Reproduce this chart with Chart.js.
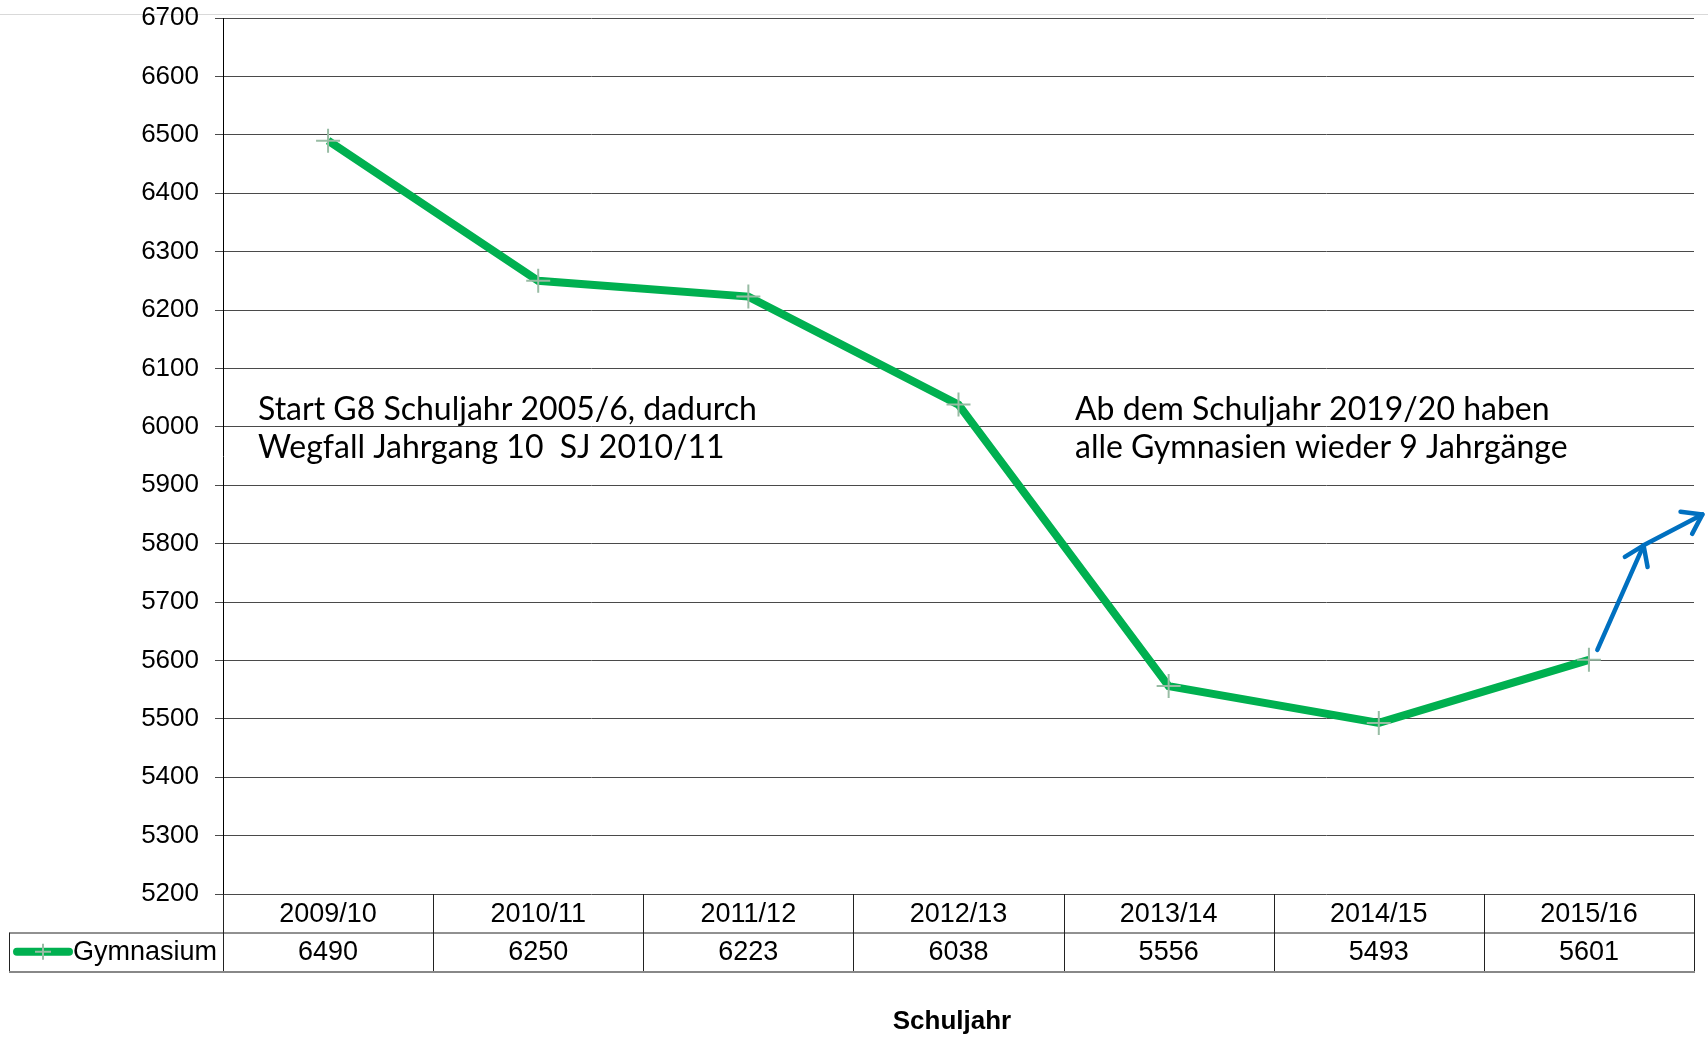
<!DOCTYPE html>
<html>
<head>
<meta charset="utf-8">
<script src="https://cdn.jsdelivr.net/npm/chart.js@4.4.0/dist/chart.umd.min.js"></script>
<style>
  html, body { margin: 0; padding: 0; background: #fff; }
  #wrap { width: 1708px; height: 1037px; position: relative; }
</style>
</head>
<body>
<div id="wrap"><canvas id="chart" width="1708" height="1037"></canvas></div>
<script>
// Data
const categories = ['2009/10', '2010/11', '2011/12', '2012/13', '2013/14', '2014/15', '2015/16'];
const gymnasium = [6490, 6250, 6223, 6038, 5556, 5493, 5601];
const seriesName = 'Gymnasium';
const axisTitle = 'Schuljahr';

// Blue "trend" arrow (category index, value)
const arrowX = [6.04, 6.26, 6.54];
const arrowY = [5618, 5797, 5850];

const noteLeft = ['Start G8 Schuljahr 2005/6, dadurch', 'Wegfall Jahrgang 10  SJ 2010/11'];
const noteRight = ['Ab dem Schuljahr 2019/20 haben', 'alle Gymnasien wieder 9 Jahrgänge'];

const GREEN = '#00b050';
const MARKER = '#98bca4';
const BLUE = '#0070c0';
const FONT = '"Liberation Sans", Arial, sans-serif';

function arrowHead(ctx, x0, y0, x1, y1, len) {
  const a = Math.atan2(y1 - y0, x1 - x0);
  ctx.beginPath();
  ctx.moveTo(x1 - len * Math.cos(a - 0.6), y1 - len * Math.sin(a - 0.6));
  ctx.lineTo(x1, y1);
  ctx.lineTo(x1 - len * Math.cos(a + 0.6), y1 - len * Math.sin(a + 0.6));
  ctx.stroke();
}

const extras = {
  id: 'extras',
  beforeDraw(chart) {
    const ctx = chart.ctx;
    // faint page line at the very top
    ctx.save();
    ctx.strokeStyle = '#d9d9d9';
    ctx.lineWidth = 1;
    ctx.beginPath();
    ctx.moveTo(0, 14.5);
    ctx.lineTo(chart.width, 14.5);
    ctx.stroke();
    ctx.restore();
  },
  afterDraw(chart) {
    const ctx = chart.ctx;
    const x = chart.scales.x;
    const y = chart.scales.y;
    const area = chart.chartArea;
    const colW = (area.right - area.left) / categories.length;
    const rowH = 38.5;
    const top = area.bottom;
    const mid = top + rowH;
    const bot = mid + rowH;
    const tableLeft = 9;

    ctx.save();
    // table lines
    ctx.strokeStyle = '#222';
    ctx.lineWidth = 1;
    ctx.beginPath();
    for (let k = 0; k <= categories.length; k++) {
      const px = Math.round(area.left + k * colW) + 0.5;
      ctx.moveTo(px, top);
      ctx.lineTo(px, bot);
    }
    ctx.moveTo(tableLeft + 0.5, mid + 0.5);
    ctx.lineTo(area.right, mid + 0.5);
    ctx.moveTo(tableLeft + 0.5, mid);
    ctx.lineTo(tableLeft + 0.5, bot);
    ctx.stroke();
    ctx.strokeStyle = '#888';
    ctx.lineWidth = 2;
    ctx.beginPath();
    ctx.moveTo(tableLeft, bot + 1);
    ctx.lineTo(area.right + 1, bot + 1);
    ctx.stroke();

    // table text
    ctx.fillStyle = '#000';
    ctx.font = '27px ' + FONT;
    ctx.textAlign = 'center';
    ctx.textBaseline = 'middle';
    categories.forEach((c, i) => {
      const cx = x.getPixelForValue(i);
      ctx.fillText(c, cx, top + rowH / 2 + 1);
      ctx.fillText(String(gymnasium[i]), cx, mid + rowH / 2 + 1);
    });

    // legend key
    const ky = mid + rowH / 2;
    ctx.strokeStyle = GREEN;
    ctx.lineWidth = 8;
    ctx.lineCap = 'round';
    ctx.beginPath();
    ctx.moveTo(17, ky);
    ctx.lineTo(69, ky);
    ctx.stroke();
    ctx.strokeStyle = MARKER;
    ctx.lineWidth = 2;
    ctx.lineCap = 'butt';
    ctx.beginPath();
    ctx.moveTo(43, ky - 8);
    ctx.lineTo(43, ky + 8);
    ctx.moveTo(35, ky);
    ctx.lineTo(51, ky);
    ctx.stroke();
    ctx.fillStyle = '#000';
    ctx.font = '27px ' + FONT;
    ctx.textAlign = 'left';
    ctx.fillText(seriesName, 73, ky + 1);

    // axis title
    ctx.font = 'bold 26px ' + FONT;
    ctx.textAlign = 'center';
    ctx.fillText(axisTitle, 952, 1022);

    // notes
    ctx.font = '32px Lato, "Open Sans", sans-serif';
    ctx.textAlign = 'left';
    ctx.fillText(noteLeft[0], 258, 410);
    ctx.fillText(noteLeft[1], 258, 448);
    ctx.fillText(noteRight[0], 1075, 410);
    ctx.fillText(noteRight[1], 1075, 448);

    // blue arrow
    const pts = arrowX.map((v, i) => [x.getPixelForValue(v), y.getPixelForValue(arrowY[i])]);
    ctx.strokeStyle = BLUE;
    ctx.lineWidth = 4.5;
    ctx.lineCap = 'round';
    ctx.lineJoin = 'round';
    ctx.beginPath();
    ctx.moveTo(pts[0][0], pts[0][1]);
    ctx.lineTo(pts[1][0], pts[1][1]);
    ctx.lineTo(pts[2][0], pts[2][1]);
    ctx.stroke();
    arrowHead(ctx, pts[0][0], pts[0][1], pts[1][0], pts[1][1], 22);
    arrowHead(ctx, pts[1][0], pts[1][1], pts[2][0], pts[2][1], 22);
    ctx.restore();
  }
};

new Chart(document.getElementById('chart'), {
  type: 'line',
  data: {
    labels: categories,
    datasets: [{
      label: seriesName,
      data: gymnasium,
      borderColor: GREEN,
      borderWidth: 8,
      tension: 0,
      pointStyle: 'cross',
      pointRadius: 12,
      pointBorderWidth: 2,
      pointBorderColor: MARKER,
      pointBackgroundColor: MARKER,
      clip: false
    }]
  },
  options: {
    responsive: false,
    animation: false,
    events: [],
    layout: { padding: { top: 18, right: 12, left: 0, bottom: 0 } },
    plugins: {
      legend: { display: false },
      tooltip: { enabled: false }
    },
    scales: {
      x: {
        type: 'category',
        offset: true,
        grid: { display: false },
        border: { display: false },
        ticks: { display: false },
        afterFit(scale) { scale.height = 143; }
      },
      y: {
        min: 5200,
        max: 6700,
        ticks: {
          stepSize: 100,
          color: '#000',
          padding: 16,
          font: { size: 26, family: FONT },
          callback: (v) => String(v)
        },
        grid: {
          color: '#4a4a4a',
          lineWidth: 1,
          tickColor: '#4a4a4a',
          tickLength: 8
        },
        border: { display: true, color: '#000', width: 1 },
        afterFit(scale) {
          scale.width = 223;
          scale.paddingTop = 0;
          scale.paddingBottom = 0;
        }
      }
    }
  },
  plugins: [extras]
});
</script>
</body>
</html>
